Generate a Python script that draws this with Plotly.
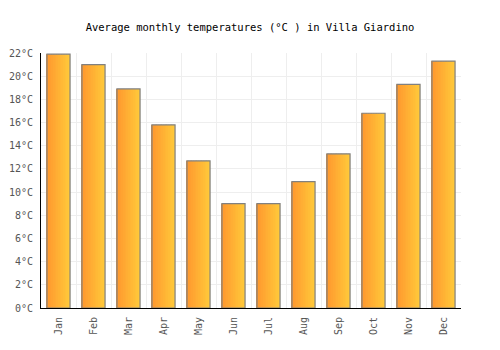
import plotly.graph_objects as go

months = ["Jan", "Feb", "Mar", "Apr", "May", "Jun", "Jul", "Aug", "Sep", "Oct", "Nov", "Dec"]
temps = [21.9, 21.0, 18.9, 15.8, 12.7, 9.0, 9.0, 10.9, 13.3, 16.8, 19.3, 21.3]
y_ticks = list(range(0, 24, 2))
y_labels = [f"{v}°C" for v in y_ticks]

bar_w = 0.66
n_slices = 14
c0 = (255, 152, 46)
c1 = (255, 200, 58)

fig = go.Figure()
for i in range(n_slices):
    t = i / (n_slices - 1)
    col = tuple(round(a + (b - a) * t) for a, b in zip(c0, c1))
    sw = bar_w / n_slices
    fig.add_trace(go.Bar(
        x=months, y=temps, width=sw * 1.05, offset=-bar_w / 2 + i * sw,
        marker=dict(color=f"rgb{col}", line=dict(width=0)),
        hoverinfo="skip", showlegend=False,
    ))
fig.add_trace(go.Bar(
    x=months, y=temps, width=bar_w, offset=-bar_w / 2,
    marker=dict(color="rgba(0,0,0,0)", line=dict(color="#808080", width=1.2)),
    showlegend=False,
))

fig.update_layout(
    width=500, height=350,
    margin=dict(l=41, r=39, t=53, b=42),
    paper_bgcolor="white", plot_bgcolor="white",
    barmode="overlay",
    title=dict(text="Average monthly temperatures (°C ) in Villa Giardino",
               x=0.5, xanchor="center", y=1 - 27 / 350, yanchor="middle",
               font=dict(family="DejaVu Sans Mono", size=10.5, color="black")),
    font=dict(family="DejaVu Sans Mono", size=10, color="#555"),
    xaxis=dict(showgrid=True, gridcolor="#eeeeee", tickangle=-90,
               showline=True, linecolor="black", linewidth=1, automargin=False,
               ticks="", tickson="boundaries", ticklabelstandoff=4,
               tickfont=dict(color="#555", size=10)),
    yaxis=dict(range=[0, 22], tickvals=y_ticks, ticktext=y_labels,
               showgrid=True, gridcolor="#eeeeee", zeroline=False,
               showline=True, linecolor="black", linewidth=1, automargin=False,
               ticks="", ticklabelstandoff=5,
               tickfont=dict(color="#555", size=10)),
)
fig.write_html("out.html")
